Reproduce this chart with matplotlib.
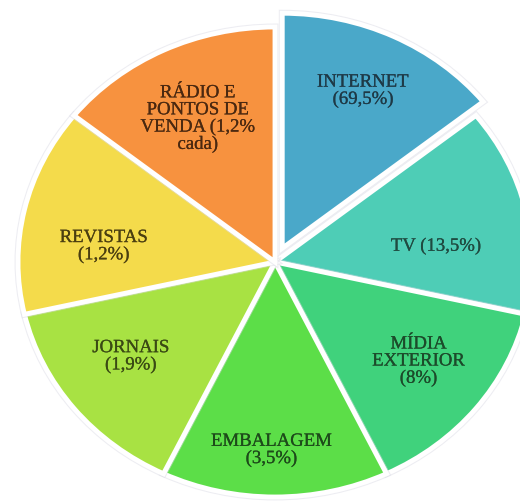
import numpy as np
import matplotlib
matplotlib.use("Agg")
import matplotlib.pyplot as plt
import matplotlib.patheffects as pe

# ---- data ----
categories = ["INTERNET\n(69,5%)", "TV (13,5%)", "MÍDIA\nEXTERIOR\n(8%)",
              "EMBALAGEM\n(3,5%)", "JORNAIS\n(1,9%)", "REVISTAS\n(1,2%)",
              "RÁDIO E\nPONTOS DE\nVENDA (1,2%\ncada)"]
# the slices in the reference are drawn with equal angular size
slice_sizes = [1, 1, 1, 1, 1, 1, 1]

# ---- style ----
colors = ["#4AA8C9", "#4ECDB6", "#40D27C", "#5CDE48", "#A8E243", "#F4DB4B", "#F7923F"]
text_colors = ["#1E3946", "#1F4A40", "#1C4A2A", "#1D4A1A", "#3A4A14", "#4A3E10", "#4A2810"]
explode = [0.065, 0, 0, 0, 0, 0, 0]
# label placement: (radius fraction, angle offset from wedge bisector in degrees)
label_layout = [(0.74, 0.6), (0.63, -6.7), (0.70, 1.5), (0.80, -1.0),
                (0.69, -3.0), (0.67, 7.1), (0.68, 0.5)]

fig = plt.figure(figsize=(5.2, 5.02), dpi=100)
ax = fig.add_axes([0, 0, 1, 1])

wedges, _ = ax.pie(slice_sizes, colors=colors, explode=explode, startangle=90,
                   counterclock=False, radius=1.0,
                   wedgeprops=dict(edgecolor="white", linewidth=3.5))

# faint grey outline around the pie
for w in wedges:
    w.set_path_effects([pe.Stroke(linewidth=5.0, foreground="#DCDCE6", alpha=0.5),
                        pe.Normal()])

for w, lab, tc, (rf, dang) in zip(wedges, categories, text_colors, label_layout):
    mid = np.deg2rad((w.theta1 + w.theta2) / 2.0)
    cx, cy = w.center
    ang = mid + np.deg2rad(dang)
    x = cx + rf * np.cos(ang)
    y = cy + rf * np.sin(ang)
    t = ax.text(x, y, lab, ha="center", va="center", fontsize=13.5,
                family="Liberation Serif", color=tc, linespacing=1.0)
    t.set_path_effects([pe.withStroke(linewidth=0.15, foreground=tc)])

ax.set_aspect("auto")
ax.set_xlim(-275 / 257, 245 / 257)
ax.set_ylim(-239 / 235, 263 / 235)
ax.axis("off")

fig.savefig("out.png", dpi=100, facecolor="white")
